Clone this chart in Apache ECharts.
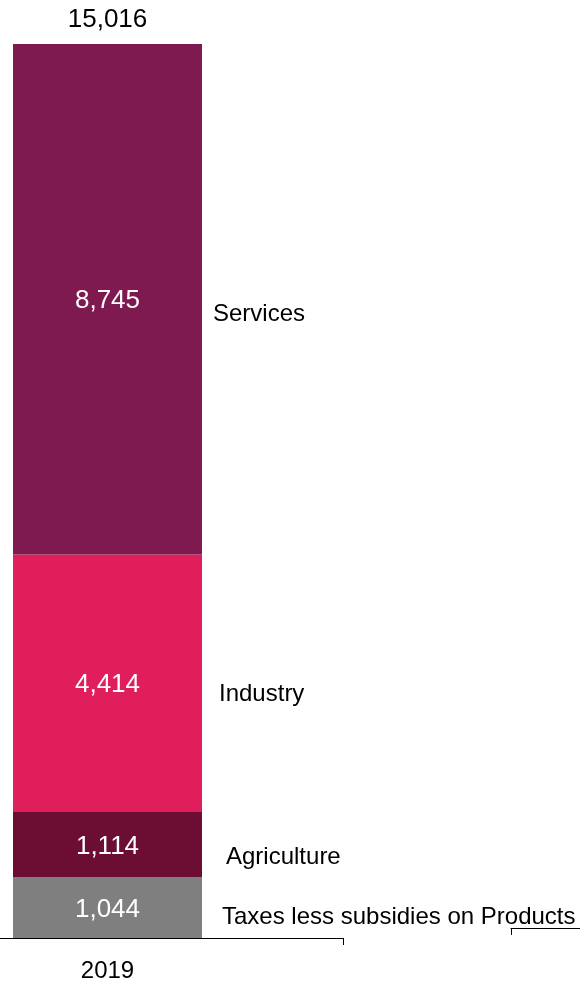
<!DOCTYPE html>
<html><head><meta charset="utf-8">
<script src="https://cdn.jsdelivr.net/npm/echarts@6/dist/echarts.min.js"></script>
<style>html,body{margin:0;padding:0;background:#fff}#c{width:580px;height:983px}</style>
</head><body><div id="c"></div>
<script>
const categories = ['2019'];
const seriesNames = ['Taxes less subsidies on Products', 'Agriculture', 'Industry', 'Services'];
const taxes = [1044];
const agriculture = [1114];
const industry = [4414];
const services = [8745];
const totals = [15016];
const nextCategories = [''];

const FONT = 'Liberation Sans, Arial, Helvetica, sans-serif';
const colors = ['#7f7f7f', '#6c0e34', '#e01e5c', '#7e1a4f'];
const nameOffsets = [[114.5, 10], [118.5, 13], [111.5, 11], [105.5, 15]];
const valuesList = [taxes, agriculture, industry, services];
const stackMax = valuesList.reduce((s, arr) => s + arr[0], 0);

const fmt = v => Number(v).toLocaleString('en-US');

let cum = 0;
const series = valuesList.map((vals, i) => {
  const mid = cum + vals[0] / 2;
  cum += vals[0];
  return {
    name: seriesNames[i],
    type: 'bar',
    stack: 'total',
    xAxisIndex: 0, yAxisIndex: 0,
    barWidth: 189,
    data: vals,
    itemStyle: { color: colors[i] },
    label: {
      show: true, position: 'inside', color: '#fff',
      fontFamily: FONT, fontSize: 26, offset: [0, 2],
      formatter: p => fmt(p.value)
    },
    markPoint: {
      symbol: 'circle', symbolSize: 0, silent: true,
      data: [{ coord: [0, mid], value: seriesNames[i] }],
      label: {
        show: true, position: 'inside', align: 'left', verticalAlign: 'middle',
        offset: nameOffsets[i],
        color: '#000', fontFamily: FONT, fontSize: 24,
        formatter: seriesNames[i]
      }
    }
  };
});
series.push({
  name: 'Total', type: 'bar', stack: 'total', barWidth: 189,
  xAxisIndex: 0, yAxisIndex: 0,
  data: totals.map(() => 0),
  itemStyle: { color: 'transparent' },
  label: {
    show: true, position: 'top', distance: 11, color: '#000',
    fontFamily: FONT, fontSize: 26,
    formatter: p => fmt(totals[p.dataIndex])
  }
});

const chart = echarts.init(document.getElementById('c'), null, { renderer: 'canvas' });
chart.setOption({
  animation: false,
  backgroundColor: '#fff',
  grid: [
    { left: -128, width: 471, top: 44, bottom: 45, outerBoundsMode: 'none', containLabel: false },
    { left: 511, width: 471, top: 100, bottom: 55, outerBoundsMode: 'none', containLabel: false }
  ],
  xAxis: [
    {
      gridIndex: 0, type: 'category', data: categories,
      axisLine: { show: true, lineStyle: { color: '#000', width: 1 } },
      axisTick: { show: true, length: 7, lineStyle: { color: '#000', width: 1 } },
      axisLabel: { color: '#000', fontFamily: FONT, fontSize: 24, margin: 21 }
    },
    {
      gridIndex: 1, type: 'category', data: nextCategories,
      axisLine: { show: true, lineStyle: { color: '#000', width: 1 } },
      axisTick: { show: true, length: 7, lineStyle: { color: '#000', width: 1 } },
      axisLabel: { show: false }
    }
  ],
  yAxis: [
    { gridIndex: 0, type: 'value', min: 0, max: stackMax, show: false },
    { gridIndex: 1, type: 'value', min: 0, max: 1, show: false }
  ],
  series: series
});
</script></body></html>
